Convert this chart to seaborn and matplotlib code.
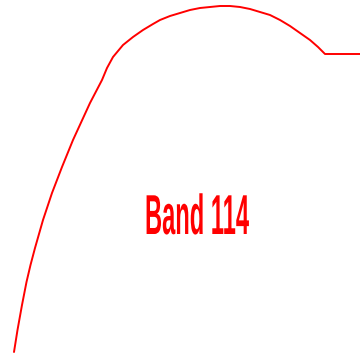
import matplotlib
matplotlib.use("Agg")
import matplotlib.pyplot as plt
import matplotlib.patheffects as pe
from matplotlib.transforms import Affine2D
import pandas as pd
import seaborn as sns

# Band outline (horizontal position, height)
band_x = [14, 17.5, 22, 26.5, 30.5, 35, 43, 52, 62, 73, 90, 102, 107, 113, 123,
          133, 143, 153, 160, 170, 180, 190, 200, 210, 220, 230, 240, 250,
          260, 270, 280, 290, 300, 310, 318, 325, 360]
band_y = [1, 23, 48, 71, 88, 105, 133, 160, 186, 213, 250, 273, 285, 296, 308,
          316, 323, 329, 333, 337, 340, 343, 345, 346, 347, 347, 346, 344,
          341, 338, 333, 327, 320, 313, 306, 299, 299]
band_label = "Band 114"

RED = "#ff0000"

sns.set_theme(style="white")
fig = plt.figure(figsize=(3.60, 3.53), dpi=100)
ax = fig.add_axes([0, 0, 1, 1])

df = pd.DataFrame({"x": band_x, "y": band_y})
sns.lineplot(data=df, x="x", y="y", sort=False, estimator=None,
             color=RED, linewidth=1.4, ax=ax)
ax.set_xlim(0, 360)
ax.set_ylim(0, 353)
ax.set_axis_off()


class HorizontalSqueeze(pe.AbstractPathEffect):
    """Draws glyph paths compressed horizontally around a fixed centre."""

    def __init__(self, cx, sx):
        super().__init__()
        self.cx = cx
        self.sx = sx

    def draw_path(self, renderer, gc, tpath, affine, rgbFace=None):
        squeeze = Affine2D().translate(-self.cx, 0).scale(self.sx, 1).translate(self.cx, 0)
        renderer.draw_path(gc, tpath, affine + squeeze, rgbFace)


label_x, label_y = 197, 119
txt = ax.text(label_x, label_y, band_label, color=RED, fontsize=40.5,
              fontweight="bold", family="Liberation Sans",
              ha="center", va="baseline")
fig.canvas.draw()
natural_w = txt.get_window_extent().width
cx = ax.transData.transform((label_x, label_y))[0]
txt.set_path_effects([HorizontalSqueeze(cx, 104.0 / natural_w)])

fig.savefig("out.png", dpi=100, facecolor="white")
